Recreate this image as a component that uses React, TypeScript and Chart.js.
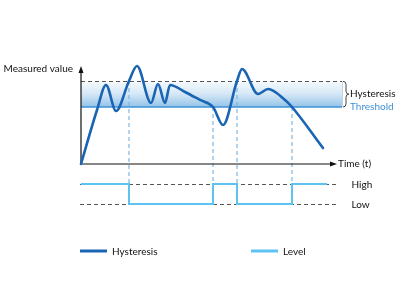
import React, { useEffect, useRef } from "react";
import { Chart, registerables } from "chart.js";

Chart.register(...registerables);

// ---- data ----
const curveTime = [0, 6.4, 10, 14, 19.2, 22.4, 28, 30.8, 33.6, 35.6, 41.6, 47.6, 52.8, 56.8, 62.4, 64.4, 70.8, 74.8, 81.6, 84.4, 96.8];
const curveValue = [0, 56.8, 83.2, 55.8, 87.4, 103.2, 64.2, 84.2, 64.2, 83.2, 75.8, 67.4, 60, 41, 87.4, 100, 73.7, 78.9, 67.4, 60, 16.8];
const levelTime = [0, 19.2, 52.8, 62.4, 84.4, 98.4];
const levelState = [1, 0, 1, 0, 1, 1];
const crossingTimes = [19.2, 52.8, 62.4, 84.4];
const crossingValues = [87.4, 60, 87.4, 60];
const THRESHOLD = 60;
const HYSTERESIS_UPPER = 87;
const TIME_AXIS_END = 102;
const BAND_END = 104.4;
const LEVEL_LINE_END = 103;
const VALUE_AXIS_TOP = 101;
const levelLabels = ["Low", "High"];
const seriesNames = ["Hysteresis", "Level"];
const axisTitles = { y: "Measured value", x: "Time (t)" };
const bandLabels = { upper: "Hysteresis", lower: "Threshold" };

const DARK = "#1a64b4";
const LIGHT = "#5ec2f2";
const THRESH_COLOR = "#3f91d8";
const FONT = "10px Lato, 'Open Sans', sans-serif";

const overlay = {
  id: "overlay",
  beforeDatasetsDraw(chart: any) {
    const { ctx } = chart;
    const xs = chart.scales.x;
    const ys = chart.scales.y;
    const y2 = chart.scales.y2;
    const x0 = xs.getPixelForValue(0);
    const xBand = xs.getPixelForValue(BAND_END);
    const yU = ys.getPixelForValue(HYSTERESIS_UPPER);
    const yT = ys.getPixelForValue(THRESHOLD);
    const yBase = ys.getPixelForValue(0);
    ctx.save();
    // band
    const g = ctx.createLinearGradient(0, yU, 0, yT);
    g.addColorStop(0, "#f6fafd");
    g.addColorStop(0.5, "#d4e7f6");
    g.addColorStop(1, "#93c3e8");
    ctx.fillStyle = g;
    ctx.fillRect(x0, yU, xBand - x0, yT - yU);
    // band right edge
    ctx.strokeStyle = "#c9d3dc";
    ctx.lineWidth = 1;
    ctx.beginPath();
    ctx.moveTo(xBand + 0.5, yU);
    ctx.lineTo(xBand + 0.5, yT);
    ctx.stroke();
    // upper dashed
    ctx.strokeStyle = "#555";
    ctx.setLineDash([4, 3]);
    ctx.beginPath();
    ctx.moveTo(x0, Math.round(yU) + 0.5);
    ctx.lineTo(xBand, Math.round(yU) + 0.5);
    ctx.stroke();
    // high / low dashed
    const xEnd = xs.getPixelForValue(LEVEL_LINE_END);
    [1, 0].forEach((s) => {
      const py = Math.round(y2.getPixelForValue(s)) + 0.5;
      ctx.beginPath();
      ctx.moveTo(x0 - 1, py);
      ctx.lineTo(xEnd, py);
      ctx.stroke();
    });
    // vertical dashed crossing lines
    ctx.strokeStyle = "#7fb6e2";
    ctx.lineWidth = 1.2;
    ctx.setLineDash([4, 3]);
    crossingTimes.forEach((t, i) => {
      const px = xs.getPixelForValue(t);
      ctx.beginPath();
      ctx.moveTo(px, ys.getPixelForValue(crossingValues[i]));
      ctx.lineTo(px, y2.getPixelForValue(1));
      ctx.stroke();
    });
    ctx.setLineDash([]);
    // threshold line
    ctx.strokeStyle = THRESH_COLOR;
    ctx.lineWidth = 1.5;
    ctx.beginPath();
    ctx.moveTo(x0, yT);
    ctx.lineTo(xBand, yT);
    ctx.stroke();
    // axes
    ctx.strokeStyle = "#111";
    ctx.fillStyle = "#111";
    ctx.lineWidth = 1.2;
    const yTop = ys.getPixelForValue(VALUE_AXIS_TOP);
    const xRight = xs.getPixelForValue(TIME_AXIS_END);
    ctx.beginPath();
    ctx.moveTo(x0, yBase);
    ctx.lineTo(x0, yTop + 4);
    ctx.moveTo(x0, yBase);
    ctx.lineTo(xRight - 4, yBase);
    ctx.stroke();
    ctx.beginPath();
    ctx.moveTo(x0, yTop - 2);
    ctx.lineTo(x0 - 2.5, yTop + 5);
    ctx.lineTo(x0 + 2.5, yTop + 5);
    ctx.closePath();
    ctx.fill();
    ctx.beginPath();
    ctx.moveTo(xRight + 1, yBase);
    ctx.lineTo(xRight - 6, yBase - 2.5);
    ctx.lineTo(xRight - 6, yBase + 2.5);
    ctx.closePath();
    ctx.fill();
    ctx.restore();
  },
  afterDatasetsDraw(chart: any) {
    const { ctx } = chart;
    const xs = chart.scales.x;
    const ys = chart.scales.y;
    const y2 = chart.scales.y2;
    const x0 = xs.getPixelForValue(0);
    const xBand = xs.getPixelForValue(BAND_END);
    const yU = ys.getPixelForValue(HYSTERESIS_UPPER);
    const yT = ys.getPixelForValue(THRESHOLD);
    const yBase = ys.getPixelForValue(0);
    ctx.save();
    ctx.font = FONT;
    ctx.textBaseline = "middle";
    ctx.fillStyle = "#111";
    // y title
    ctx.textAlign = "right";
    ctx.fillText(axisTitles.y, x0 - 8, ys.getPixelForValue(VALUE_AXIS_TOP) + 1);
    // x title
    ctx.textAlign = "left";
    ctx.fillText(axisTitles.x, xs.getPixelForValue(TIME_AXIS_END) + 2, yBase);
    // brace
    const bx = xBand + 1;
    const ym = (yU + yT) / 2;
    ctx.strokeStyle = "#444";
    ctx.lineWidth = 1;
    ctx.beginPath();
    ctx.moveTo(bx, yU);
    ctx.quadraticCurveTo(bx + 3, yU, bx + 3, yU + 3);
    ctx.lineTo(bx + 3, ym - 3);
    ctx.quadraticCurveTo(bx + 3, ym, bx + 6, ym);
    ctx.quadraticCurveTo(bx + 3, ym, bx + 3, ym + 3);
    ctx.lineTo(bx + 3, yT - 3);
    ctx.quadraticCurveTo(bx + 3, yT, bx, yT);
    ctx.stroke();
    ctx.fillText(bandLabels.upper, bx + 7, ym);
    ctx.fillStyle = THRESH_COLOR;
    ctx.fillText(bandLabels.lower, bx + 7, yT);
    // level labels
    ctx.fillStyle = "#111";
    const lx = xs.getPixelForValue(LEVEL_LINE_END) + 13;
    levelLabels.forEach((lab, s) => {
      ctx.fillText(lab, lx, y2.getPixelForValue(s) + 1);
    });
    // legend
    const ly = 251;
    const items = [
      { x: 80, color: DARK, label: seriesNames[0] },
      { x: 251, color: LIGHT, label: seriesNames[1] },
    ];
    items.forEach((it) => {
      ctx.strokeStyle = it.color;
      ctx.lineWidth = 3;
      ctx.beginPath();
      ctx.moveTo(it.x, ly);
      ctx.lineTo(it.x + 27, ly);
      ctx.stroke();
      ctx.fillStyle = "#111";
      ctx.fillText(it.label, it.x + 32, ly + 1);
    });
    ctx.restore();
  },
};

export default function App() {
  const ref = useRef<HTMLCanvasElement>(null);
  useEffect(() => {
    document.body.style.margin = "0";
    const canvas = ref.current!;
    const chart = new Chart(canvas, {
      type: "line",
      data: {
        datasets: [
          {
            label: seriesNames[0],
            data: curveTime.map((t, i) => ({ x: t, y: curveValue[i] })),
            borderColor: DARK,
            borderWidth: 2.6,
            pointRadius: 0,
            cubicInterpolationMode: "monotone",
            yAxisID: "y",
            borderCapStyle: "round",
            borderJoinStyle: "round",
          },
          {
            label: seriesNames[1],
            data: levelTime.map((t, i) => ({ x: t, y: levelState[i] })),
            borderColor: LIGHT,
            borderWidth: 2,
            pointRadius: 0,
            stepped: true,
            yAxisID: "y2",
          },
        ],
      },
      options: {
        responsive: false,
        animation: false,
        layout: { padding: 0 },
        plugins: { legend: { display: false }, tooltip: { enabled: false } },
        scales: {
          x: { type: "linear", display: false, min: -32.4, max: 127.6 },
          y: { type: "linear", display: false, min: -135.8, max: 172.6 },
          y2: { type: "linear", display: false, min: -4.45, max: 10.2 },
        },
      },
      plugins: [overlay],
    } as any);
    return () => chart.destroy();
  }, []);
  return (
    <div style={{ width: 400, height: 293 }}>
      <canvas ref={ref} width={400} height={293} />
    </div>
  );
}
